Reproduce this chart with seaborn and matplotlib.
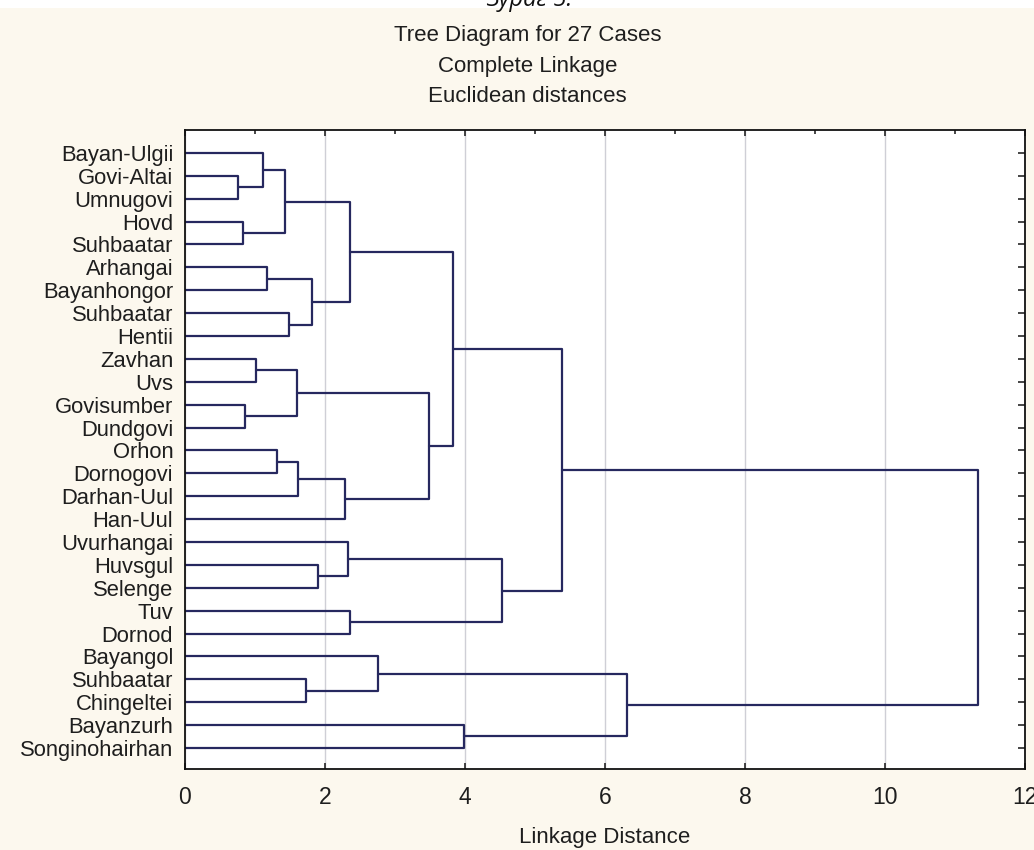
import numpy as np
import pandas as pd
import matplotlib
matplotlib.use("Agg")
import matplotlib.pyplot as plt
from matplotlib.patches import Rectangle
import seaborn as sns

# leaves, top to bottom as in the tree diagram
leaves = ["Bayan-Ulgii", "Govi-Altai", "Umnugovi", "Hovd", "Suhbaatar",
          "Arhangai", "Bayanhongor", "Suhbaatar", "Hentii", "Zavhan", "Uvs",
          "Govisumber", "Dundgovi", "Orhon", "Dornogovi", "Darhan-Uul",
          "Han-Uul", "Uvurhangai", "Huvsgul", "Selenge", "Tuv", "Dornod",
          "Bayangol", "Suhbaatar", "Chingeltei", "Bayanzurh", "Songinohairhan"]

# merges: child a, child b (leaf index < 27, else 27 + merge number), linkage distance
merge_a = [1, 3, 11, 9, 0, 5, 13, 31, 7, 30, 33, 23, 32, 18, 37, 17, 34, 20, 22, 36, 43, 25, 42, 47, 45, 50]
merge_b = [2, 4, 12, 10, 27, 6, 14, 28, 8, 29, 15, 24, 35, 19, 16, 40, 39, 21, 38, 41, 46, 26, 44, 49, 48, 51]
merge_h = [0.76, 0.83, 0.86, 1.02, 1.12, 1.17, 1.31, 1.43, 1.48, 1.60, 1.62, 1.73, 1.81,
           1.90, 2.29, 2.33, 2.36, 2.36, 2.76, 3.48, 3.83, 3.98, 4.53, 5.39, 6.32, 11.33]

x_ticks = [0, 2, 4, 6, 8, 10, 12]
title_lines = ["Tree Diagram for 27 Cases", "Complete Linkage", "Euclidean distances"]

# positions of every node (leaves at height 0)
n = len(leaves)
pos_y = list(range(n))
pos_h = [0.0] * n
rows = []
for k, (a, b, h) in enumerate(zip(merge_a, merge_b, merge_h)):
    rows += [(k, pos_h[a], pos_y[a]), (k, h, pos_y[a]), (k, h, pos_y[b]), (k, pos_h[b], pos_y[b])]
    pos_y.append((pos_y[a] + pos_y[b]) / 2)
    pos_h.append(h)
segs = pd.DataFrame(rows, columns=["seg", "dist", "case"])

sns.set_style("white")
plt.rcParams["font.family"] = ["Liberation Sans", "DejaVu Sans"]

cream = "#fcf8ee"
navy = "#26285f"
ink = "#1e1e1e"

fig = plt.figure(figsize=(10.34, 8.5), dpi=100, facecolor=cream)
ax = fig.add_axes([0.1789, 0.0953, 0.9913 - 0.1789, 0.847 - 0.0953])
ax.set_facecolor("white")

sns.lineplot(data=segs, x="dist", y="case", units="seg", estimator=None, sort=False,
             color=navy, linewidth=1.6, ax=ax, legend=False)

ax.set_xlim(0, 12)
ax.set_ylim(26.92, -1.0)
ax.set_xticks(x_ticks)
ax.set_xticks(range(1, 12, 2), minor=True)
ax.set_yticks(range(n))
ax.set_yticklabels(leaves, fontsize=15.8, color=ink)
ax.set_xticklabels([str(t) for t in x_ticks], fontsize=16.5, color=ink)
ax.grid(axis="x", color="#cfcfd6", linewidth=1.0)
ax.grid(axis="y", visible=False)

ax.tick_params(axis="x", which="major", direction="in", top=True, bottom=True,
               length=4, width=1.2, pad=12)
ax.tick_params(axis="x", which="minor", direction="in", top=True, bottom=False,
               length=3, width=1.2)
ax.tick_params(axis="y", direction="in", left=False, right=True, length=5, width=1.2, pad=8.5)
for s in ax.spines.values():
    s.set_color("#111111")
    s.set_linewidth(1.3)

ax.set_xlabel("Linkage Distance", fontsize=16, color=ink, labelpad=13)
ax.set_ylabel("")

for line, yy in zip(title_lines, [0.9588, 0.9212, 0.8859]):
    fig.text(0.51, yy, line, ha="center", va="center", fontsize=16, color=ink)

# cut caption at the very top
fig.patches.append(Rectangle((0, 1 - 8 / 850), 1, 8 / 850, transform=fig.transFigure,
                             facecolor="white", edgecolor="none", zorder=0))
fig.text(0.512, 1 - 6 / 850, "Зураг 5.", ha="center", va="baseline", fontsize=17,
         style="italic", family=["Open Sans", "DejaVu Sans"], color="#111111")

fig.savefig("out.png", dpi=100, facecolor=cream)
